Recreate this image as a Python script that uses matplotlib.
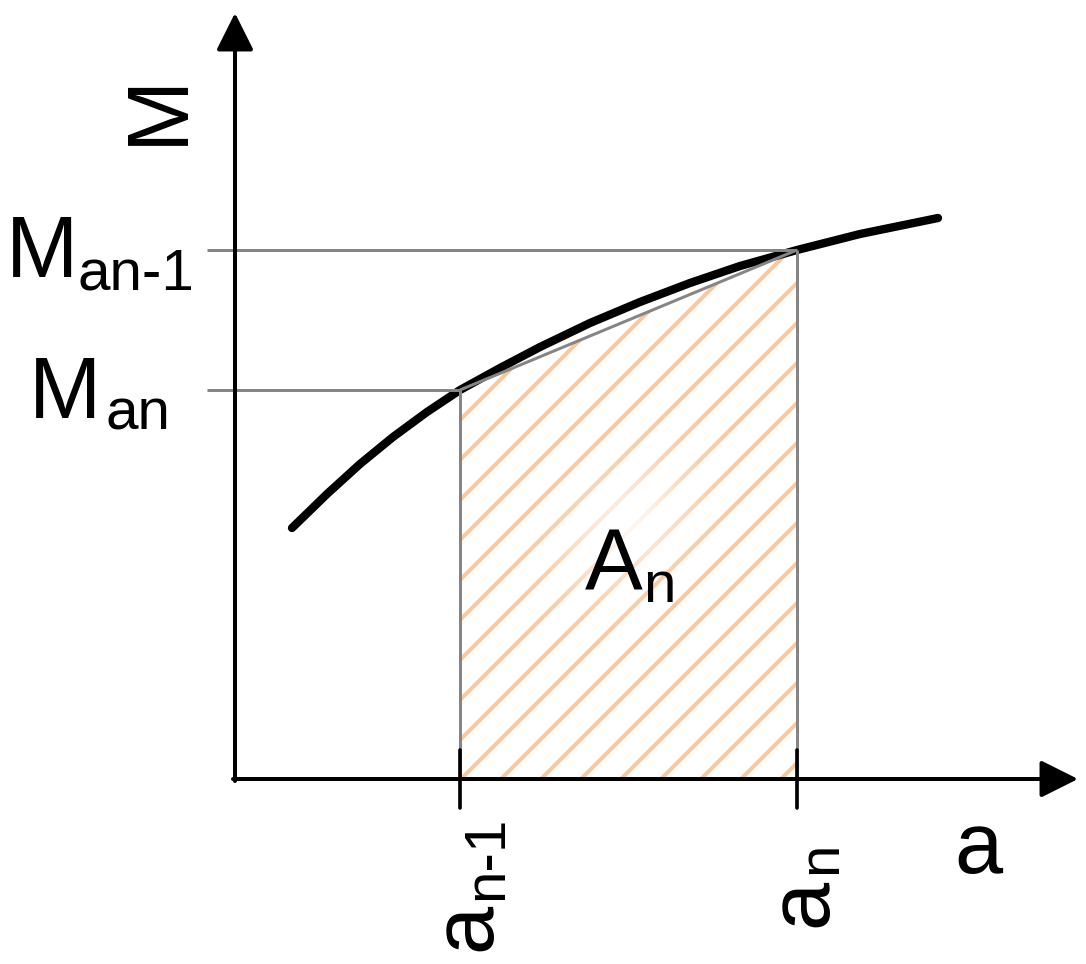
import numpy as np
import matplotlib
matplotlib.use("Agg")
import matplotlib.pyplot as plt

plt.rcParams["font.family"] = ["Liberation Sans", "DejaVu Sans"]
plt.rcParams["hatch.linewidth"] = 1.2

# curve M(a) (units ~ pixels from the origin)
curve_a = [57, 92, 125, 158, 192, 225, 265, 305, 355, 405, 455, 505, 562, 625, 703]
curve_M = [251, 285, 315, 342, 367, 389, 411, 432, 456, 477, 496, 513, 529, 545, 561]

# the strip a_{n-1} .. a_n
a_prev, a_cur = 225, 562
M_prev, M_cur = 389, 529

axis_a_end = 843
axis_M_end = 766
guide_start = -28
tick_half = 29

DPI = 240
fig = plt.figure(figsize=(1086 / DPI, 964 / DPI), dpi=DPI)
ax = fig.add_axes([0, 0, 1, 1])
ax.set_xlim(-235, 851)
ax.set_ylim(-185, 779)
ax.axis("off")

# hatched trapezoid
ax.fill([a_prev, a_prev, a_cur, a_cur], [0, M_prev, M_cur, 0],
        facecolor="none", edgecolor="#FDC79C", hatch="//", linewidth=0, zorder=1)

# soft white glow behind the A_n label
gx, gy = np.meshgrid(np.linspace(270, 510, 120), np.linspace(130, 380, 120))
cx, cy = 392, 252
u = ((gx - cx) + (gy - cy)) / np.sqrt(2)
v = ((gx - cx) - (gy - cy)) / np.sqrt(2)
alpha = 0.85 * np.exp(-(u / 75) ** 2 - (v / 45) ** 2)
glow = np.ones((120, 120, 4))
glow[..., 3] = alpha
ax.imshow(glow, extent=(270, 510, 130, 380), origin="lower", zorder=2,
          interpolation="bilinear", aspect="auto")

# the curve
ax.plot(curve_a, curve_M, color="black", lw=2.5, solid_capstyle="round",
        solid_joinstyle="round", zorder=3)

# grey guides
grey = "#858585"
kw = dict(color=grey, lw=0.9, zorder=4, solid_capstyle="butt")
ax.plot([guide_start, a_cur], [M_cur, M_cur], **kw)
ax.plot([guide_start, a_prev], [M_prev, M_prev], **kw)
ax.plot([a_prev, a_prev], [0, M_prev], **kw)
ax.plot([a_cur, a_cur], [0, M_cur], **kw)
ax.plot([a_prev, a_cur], [M_prev, M_cur], **kw)

# axes with arrows
arrow = dict(arrowstyle="-|>,head_length=0.4,head_width=0.2", mutation_scale=24,
             lw=1.2, color="black", shrinkA=0, shrinkB=0)
ax.annotate("", xy=(axis_a_end, 0), xytext=(-2, 0), arrowprops=arrow, zorder=5)
ax.annotate("", xy=(0, axis_M_end), xytext=(0, -2), arrowprops=arrow, zorder=5)

# ticks below the a axis
for a in (a_prev, a_cur):
    ax.plot([a, a], [-tick_half, tick_half], color="black", lw=1.1,
            solid_capstyle="round", zorder=5)

big, small = 26, 17.5
t = dict(ha="left", va="baseline", color="black")
tr = dict(ha="left", va="baseline", rotation=90, rotation_mode="anchor", color="black")

ax.text(-53, 634, "M", fontsize=big, **tr)
ax.text(719, -94, "a", fontsize=big, **t)

ax.text(-229, 502, "M", fontsize=big, **t)
ax.text(-157, 489, "an-1", fontsize=small, **t)
ax.text(-206, 361, "M", fontsize=big, **t)
ax.text(-130, 349, "an", fontsize=small, **t)

ax.text(350, 189, "A", fontsize=big, zorder=6, **t)
ax.text(408, 177, "n", fontsize=small, zorder=6, **t)

ax.text(255, -172, "a", fontsize=big, **tr)
ax.text(267, -121, "n-1", fontsize=small, **tr)
ax.text(591, -148, "a", fontsize=big, **tr)
ax.text(601, -95, "n", fontsize=small, **tr)

fig.savefig("out.png", dpi=DPI)
